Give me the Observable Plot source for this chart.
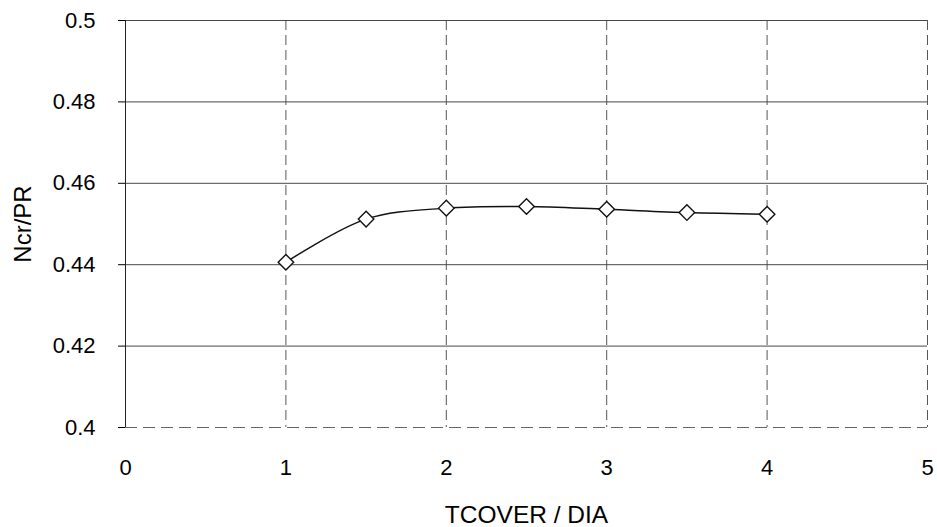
<!DOCTYPE html>
<html>
<head>
<meta charset="utf-8">
<script src="https://cdn.jsdelivr.net/npm/d3@7"></script>
<script src="https://cdn.jsdelivr.net/npm/@observablehq/plot@0.6"></script>
<style>
  html, body { margin: 0; padding: 0; background: #fff; }
  #chart svg { display: block; }
  #chart svg text { fill: #000; }
</style>
</head>
<body>
<div id="chart"></div>
<script>
// Cover-to-diameter ratio against normalised critical load
const ratio = [1, 1.5, 2, 2.5, 3, 3.5, 4];
const ncrPr = [0.4406, 0.4512, 0.4539, 0.4543, 0.4536, 0.4528, 0.4524];
const xTicks = [0, 1, 2, 3, 4, 5];
const yTicks = [0.4, 0.42, 0.44, 0.46, 0.48, 0.5];

const data = ratio.map((r, i) => ({ r, v: ncrPr[i] }));
const font = "Liberation Sans, Arial, sans-serif";
const fmtY = d => String(+d.toFixed(2));
const fmtX = d => String(d);

const chart = Plot.plot({
  width: 937,
  height: 527,
  marginLeft: 125,
  marginRight: 10,
  marginTop: 20,
  marginBottom: 100,
  style: { fontFamily: font, color: "#000", background: "#fff" },
  x: { domain: [0, 5], label: null },
  y: { domain: [0.4, 0.5], label: null },
  marks: [
    // horizontal grid (solid) and vertical grid (dashed)
    Plot.ruleY(yTicks.filter(t => t > 0.4), { stroke: "#333", strokeWidth: 0.9 }),
    Plot.ruleY([0.4], { stroke: "#555", strokeWidth: 0.9, strokeDasharray: "12,6" }),
    Plot.ruleX(xTicks.filter(t => t > 0), { stroke: "#444", strokeWidth: 0.9, strokeDasharray: "10,5" }),
    Plot.ruleX([0], { stroke: "#222", strokeWidth: 1 }),
    Plot.axisY({ ticks: yTicks, tickSize: 7, tickPadding: 23, tickFormat: fmtY, fontSize: 22, label: null }),
    Plot.axisX({ ticks: xTicks, tickSize: 0, tickPadding: 32, tickFormat: fmtX, fontSize: 22, label: null }),
    Plot.line(data, { x: "r", y: "v", curve: "catmull-rom", stroke: "#111", strokeWidth: 1.5 }),
    Plot.dot(data, { x: "r", y: "v", symbol: "diamond2", r: 7, fill: "#fff", stroke: "#111", strokeWidth: 1.4 }),
    Plot.text(["TCOVER / DIA"], { frameAnchor: "bottom", dy: 95, fontSize: 24.5, fill: "#000" }),
    Plot.text(["Ncr/PR"], { frameAnchor: "left", textAnchor: "middle", dx: -102, rotate: -90, fontSize: 24, fill: "#000" })
  ]
});

document.getElementById("chart").appendChild(chart);
</script>
</body>
</html>
